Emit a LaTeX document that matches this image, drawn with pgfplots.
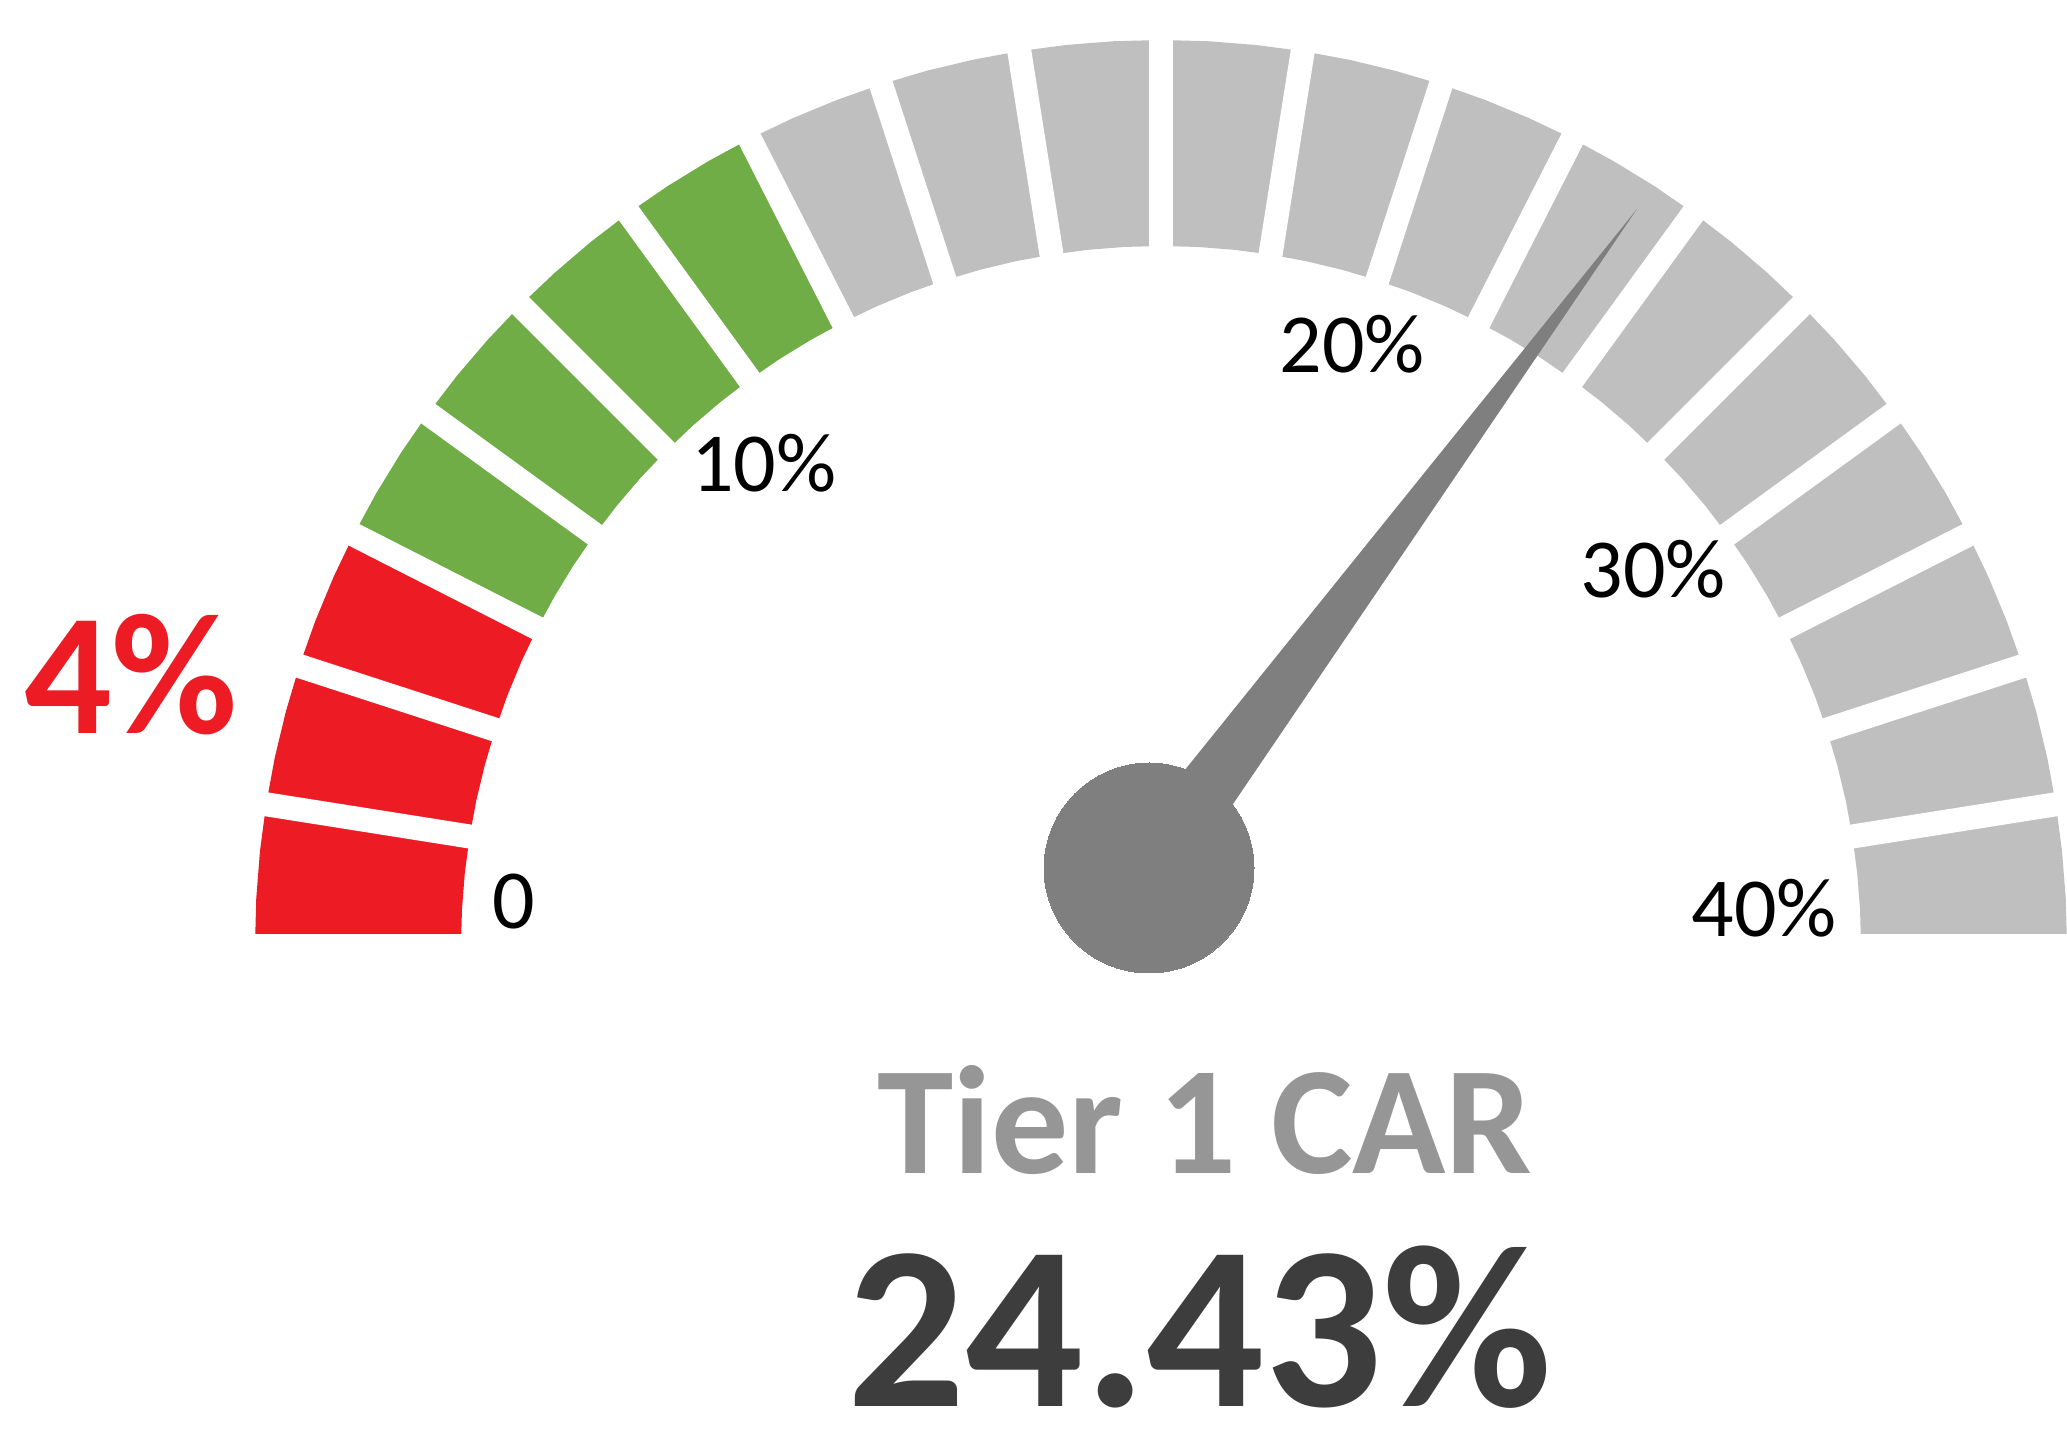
\documentclass[border=0pt]{standalone}
\usepackage{pgfplots}
\pgfplotsset{compat=1.18}
\usepackage{fontspec}
\setmainfont{Carlito}
\definecolor{gred}{HTML}{ED1C24}
\definecolor{ggreen}{HTML}{70AD47}
\definecolor{ggray}{HTML}{BFBFBF}
\definecolor{needle}{HTML}{7F7F7F}
\definecolor{titlegray}{HTML}{969696}
\definecolor{valgray}{HTML}{3D3D3D}
\begin{document}
\begin{tikzpicture}
\begin{axis}[scale only axis,width=516.75pt,height=359pt,
  xmin=-1161,xmax=906,ymin=-490,ymax=946,hide axis,
  every node/.style={inner sep=0pt}]
% frame
\addplot[draw=none] coordinates {(-1161,-490) (906,946)};
% red band 0-6%
\addplot[fill=gred,draw=none,data cs=polar] coordinates {
(180,906) (177,906) (174,906) (171,906) (168,906) (165,906) (162,906) (159,906) (156,906) (153,906)
(153,700) (156,700) (159,700) (162,700) (165,700) (168,700) (171,700) (174,700) (177,700) (180,700)};
% green band 6-14%
\addplot[fill=ggreen,draw=none,data cs=polar] coordinates {
(153,906) (150,906) (147,906) (144,906) (141,906) (138,906) (135,906) (132,906) (129,906) (126,906) (123,906) (120,906) (117,906)
(117,700) (120,700) (123,700) (126,700) (129,700) (132,700) (135,700) (138,700) (141,700) (144,700) (147,700) (150,700) (153,700)};
% gray band 14-40%
\addplot[fill=ggray,draw=none,data cs=polar] coordinates {
(117,906) (114,906) (111,906) (108,906) (105,906) (102,906) (99,906) (96,906) (93,906) (90,906)
(87,906) (84,906) (81,906) (78,906) (75,906) (72,906) (69,906) (66,906) (63,906) (60,906)
(57,906) (54,906) (51,906) (48,906) (45,906) (42,906) (39,906) (36,906) (33,906) (30,906)
(27,906) (24,906) (21,906) (18,906) (15,906) (12,906) (9,906) (6,906) (3,906) (0,906)
(0,700) (3,700) (6,700) (9,700) (12,700) (15,700) (18,700) (21,700) (24,700) (27,700)
(30,700) (33,700) (36,700) (39,700) (42,700) (45,700) (48,700) (51,700) (54,700) (57,700)
(60,700) (63,700) (66,700) (69,700) (72,700) (75,700) (78,700) (81,700) (84,700) (87,700)
(90,700) (93,700) (96,700) (99,700) (102,700) (105,700) (108,700) (111,700) (114,700) (117,700)};
% gaps between segments
\pgfplotsset{gap/.style={white,line width=6pt,data cs=polar}}
\addplot[gap] coordinates {(0,660) (0,960)};
\addplot[gap] coordinates {(9,660) (9,960)};
\addplot[gap] coordinates {(18,660) (18,960)};
\addplot[gap] coordinates {(27,660) (27,960)};
\addplot[gap] coordinates {(36,660) (36,960)};
\addplot[gap] coordinates {(45,660) (45,960)};
\addplot[gap] coordinates {(54,660) (54,960)};
\addplot[gap] coordinates {(63,660) (63,960)};
\addplot[gap] coordinates {(72,660) (72,960)};
\addplot[gap] coordinates {(81,660) (81,960)};
\addplot[gap] coordinates {(90,660) (90,960)};
\addplot[gap] coordinates {(99,660) (99,960)};
\addplot[gap] coordinates {(108,660) (108,960)};
\addplot[gap] coordinates {(117,660) (117,960)};
\addplot[gap] coordinates {(126,660) (126,960)};
\addplot[gap] coordinates {(135,660) (135,960)};
\addplot[gap] coordinates {(144,660) (144,960)};
\addplot[gap] coordinates {(153,660) (153,960)};
\addplot[gap] coordinates {(162,660) (162,960)};
\addplot[gap] coordinates {(171,660) (171,960)};
\addplot[gap] coordinates {(180,660) (180,960)};
% needle
\addplot[fill=needle,draw=none] coordinates {(-39,98) (476,737) (15,58)};
\addplot[only marks,color=needle,mark=*,mark size=26.25pt,mark options={draw=needle,fill=needle,line width=0pt}] coordinates {(-12,78)};
% labels
\node[anchor=base,font=\fontsize{21}{21}\selectfont] at (axis cs:-647,17) {0};
\node[anchor=base,font=\fontsize{21}{21}\selectfont] at (axis cs:-397,454) {10\%};
\node[anchor=base,font=\fontsize{21}{21}\selectfont] at (axis cs:191,573) {20\%};
\node[anchor=base,font=\fontsize{21}{21}\selectfont] at (axis cs:492,348) {30\%};
\node[anchor=base,font=\fontsize{21}{21}\selectfont] at (axis cs:603,9) {40\%};
\node[anchor=base,text=gred,font=\fontsize{43.25}{43.25}\selectfont\bfseries] at (axis cs:-1030,212) {4\%};
\node[anchor=base,text=titlegray,font=\fontsize{38.5}{38.5}\selectfont\bfseries] at (axis cs:44,-227) {Tier 1 CAR};
\node[anchor=base,text=valgray,font=\fontsize{58.25}{58.25}\selectfont\bfseries] at (axis cs:39,-460) {24.43\%};
\end{axis}
\end{tikzpicture}
\end{document}
